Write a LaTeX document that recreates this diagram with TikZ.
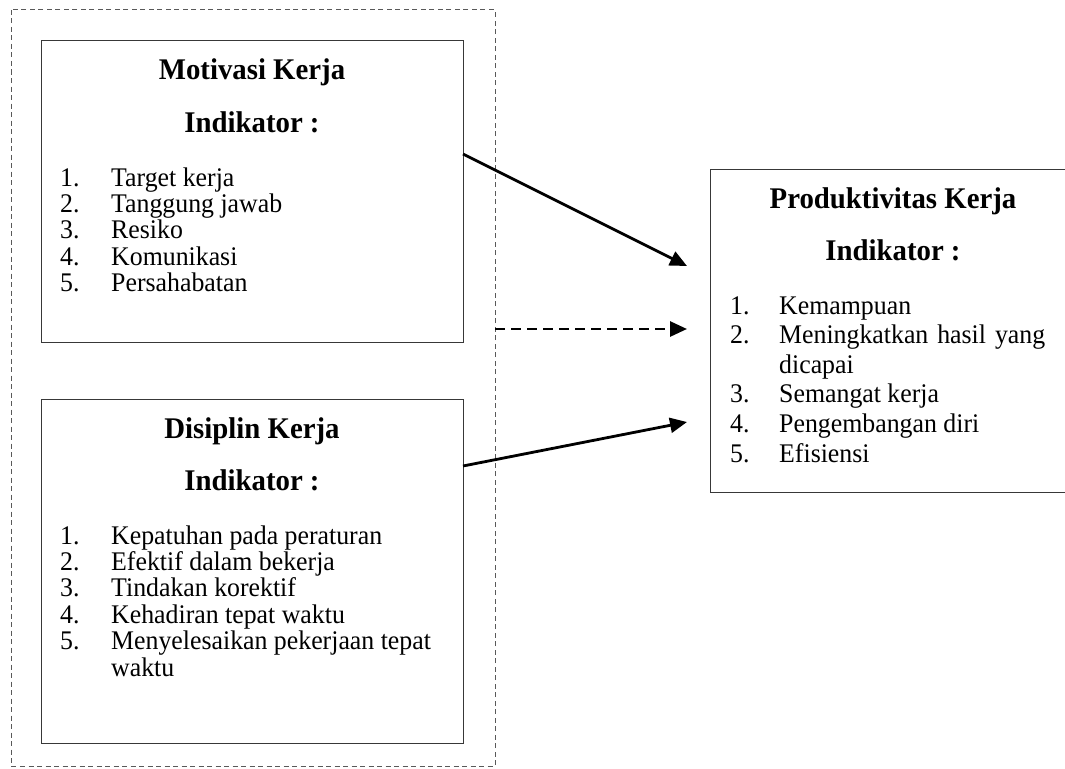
\documentclass[tikz,border=0pt]{standalone}
\usepackage{fontspec}
\setmainfont{Liberation Serif}[FakeStretch=0.96]
\usetikzlibrary{arrows.meta}
\begin{document}
\begin{tikzpicture}[x=1pt,y=-1pt,
  boxline/.style={draw=black!78,line width=1.4pt},
  outerline/.style={draw=black!65,line width=1pt,dash pattern=on 5pt off 3.5pt},
  ttl/.style={font=\fontsize{30}{31}\selectfont\bfseries,anchor=base,inner sep=0pt},
  num/.style={font=\fontsize{26.9}{27}\selectfont,anchor=base west,inner sep=0pt},
  itm/.style={font=\fontsize{26.9}{27}\selectfont,anchor=base west,inner sep=0pt},
  conn/.style={draw=black,line width=2.8pt,-{Triangle[length=17pt,width=15pt]}},
  dconn/.style={conn,dash pattern=on 10pt off 6pt}]
\useasboundingbox (0,0) rectangle (1065,768);
\clip (0,0) rectangle (1065,768);
\fill[white] (0,0) rectangle (1065,768);
% outer dashed frame
\draw[outerline] (11,10) rectangle (495,766);
% boxes
\node[boxline,minimum width=422pt,minimum height=302pt,anchor=north west,inner sep=0pt] (M) at (41,40) {};
\node[boxline,minimum width=422pt,minimum height=344pt,anchor=north west,inner sep=0pt] (D) at (41,399) {};
\node[boxline,minimum width=362pt,minimum height=323pt,anchor=north west,inner sep=0pt] (P) at (710,169) {};
% Motivasi
\node[ttl] (mt) at (252,80) {Motivasi Kerja};
\node[ttl] (mi) at (252,132) {Indikator :};
\node[num] (m1n) at (60,186) {1.};   \node[itm] (m1) at (111,186) {Target kerja};
\node[num] (m2n) at (60,212.4) {2.}; \node[itm] (m2) at (111,212.4) {Tanggung jawab};
\node[num] (m3n) at (60,238.8) {3.}; \node[itm] (m3) at (111,238.8) {Resiko};
\node[num] (m4n) at (60,265.2) {4.}; \node[itm] (m4) at (111,265.2) {Komunikasi};
\node[num] (m5n) at (60,291.6) {5.}; \node[itm] (m5) at (111,291.6) {Persahabatan};
% Disiplin
\node[ttl] (dt) at (252,438) {Disiplin Kerja};
\node[ttl] (di) at (252,490) {Indikator :};
\node[num] (d1n) at (60,544) {1.};   \node[itm] (d1) at (111,544) {Kepatuhan pada peraturan};
\node[num] (d2n) at (60,570.4) {2.}; \node[itm] (d2) at (111,570.4) {Efektif dalam bekerja};
\node[num] (d3n) at (60,596.8) {3.}; \node[itm] (d3) at (111,596.8) {Tindakan korektif};
\node[num] (d4n) at (60,623.2) {4.}; \node[itm] (d4) at (111,623.2) {Kehadiran tepat waktu};
\node[num] (d5n) at (60,649.6) {5.}; \node[itm] (d5) at (111,649.6) {Menyelesaikan pekerjaan tepat};
\node[itm] (d5b) at (111,676) {waktu};
% Produktivitas
\node[ttl] (pt) at (893,208) {Produktivitas Kerja};
\node[ttl] (pi) at (893,260) {Indikator :};
\node[num] (p1n) at (730,314) {1.};   \node[itm] (p1) at (779,314) {Kemampuan};
\node[num] (p2n) at (730,343.6) {2.}; \node[itm] (p2) at (779,343.6) {\makebox[266pt][s]{Meningkatkan hasil yang}};
\node[itm] (p2b) at (779,373.2) {dicapai};
\node[num] (p3n) at (730,402.8) {3.}; \node[itm] (p3) at (779,402.8) {Semangat kerja};
\node[num] (p4n) at (730,432.4) {4.}; \node[itm] (p4) at (779,432.4) {Pengembangan diri};
\node[num] (p5n) at (730,462) {5.};   \node[itm] (p5) at (779,462) {Efisiensi};
% connector ends
\coordinate (a1s) at (463,154);
\coordinate (a1e) at (687,266);
\coordinate (a2s) at (495,329);
\coordinate (a2e) at (687,329);
\coordinate (a3s) at (463,466);
\coordinate (a3e) at (687,422);
\draw[conn] (a1s) -- (a1e);
\draw[dconn] (a2s) -- (a2e);
\draw[conn] (a3s) -- (a3e);
\end{tikzpicture}
\end{document}
